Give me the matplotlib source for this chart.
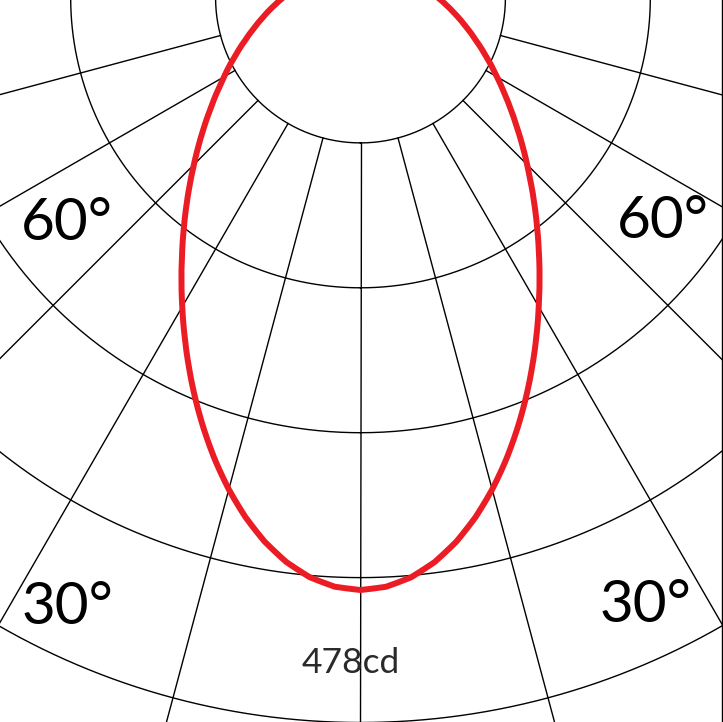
import numpy as np
import matplotlib
matplotlib.use("Agg")
import matplotlib.pyplot as plt
from matplotlib.lines import Line2D

# luminous intensity (cd), angle from nadir (deg), symmetric
angles = [0, 2.5, 5, 7.5, 10, 12.5, 15, 17.5, 20, 22.5, 25, 27.5, 30, 32.5,
          35, 37.5, 40, 42.5, 45, 47.5, 50, 52.5, 55, 57.5, 60, 65, 70, 75,
          80, 85, 90, 95, 100, 105, 110, 115, 120, 125, 130, 135, 140, 145,
          150, 155, 160, 165, 170, 175, 180]
intensity = [478.0, 475.8, 469.5, 459.3, 445.7, 429.3, 410.8, 390.9, 370.1,
             349.1, 328.1, 307.6, 287.8, 269.0, 251.1, 234.3, 218.6, 203.9,
             190.2, 177.6, 165.8, 155.0, 145.0, 135.7, 127.2, 111.9, 98.8,
             87.7, 78.2, 69.9, 62.8, 56.8, 51.6, 47.2, 43.4, 40.1, 37.3, 35.0,
             32.9, 31.2, 29.8, 28.6, 27.6, 26.7, 26.2, 25.7, 25.3, 25.1, 25.0]

rings = [117, 234, 351, 468, 585]          # grid circles (cd)
spokes = np.arange(-180, 180, 15)          # radial lines (deg)
angle_labels = ["60°", "60°", "30°", "30°"]
label_pos = [(67, 223), (663, 222), (67, 607), (645, 605)]   # px in the picture
peak_label = "478cd"

W, H = 723, 722
px_per_cd = 592 / 478
rmax = 800
cx, cy = 360.5, -2.0          # pole position in picture px (from top-left)

fig = plt.figure(figsize=(W / 100, H / 100), dpi=100)
rad_px = rmax * px_per_cd
ax = fig.add_axes([cx / W - rad_px / W, (H - cy) / H - rad_px / H,
                   2 * rad_px / W, 2 * rad_px / H], projection="polar")
ax.set_theta_zero_location("S")
ax.set_ylim(0, rmax)
ax.grid(False)
ax.set_xticks([])
ax.set_yticks([])
ax.spines["polar"].set_visible(False)
ax.patch.set_alpha(0)

full = np.linspace(0, 2 * np.pi, 721)
for r in rings:
    ax.plot(full, np.full_like(full, r), color="black", lw=1.0, zorder=3)
for a in spokes:
    t = np.deg2rad(a)
    ax.plot([t, t], [rings[0], rmax], color="black", lw=1.0, zorder=3)

ang = np.array(angles, dtype=float)
val = np.array(intensity)
th = np.deg2rad(np.concatenate([-ang[::-1], ang[1:]]))
rr = np.concatenate([val[::-1], val[1:]])
curve, = ax.plot(th, rr, color="#ec1c24", lw=4.3, zorder=4, solid_joinstyle="round")
# let the polar transform draw each segment as an arc instead of a chord
curve.get_path()._interpolation_steps = 30

for txt, (x, y) in zip(angle_labels, label_pos):
    fig.text(x / W, 1 - y / H, txt, ha="center", va="center",
             fontsize=42, family="Lato", color="black", zorder=5)

fig.text(351 / W, 1 - 663 / H, peak_label, ha="center", va="center",
         fontsize=25.5, family="Lato", color="#2a2a2a", zorder=1)

# frame line on the right edge
fig.add_artist(Line2D([0.9993, 0.9993], [0, 1], color="black", lw=1.0,
                      transform=fig.transFigure))

fig.savefig("out.png", dpi=100, facecolor="white")
